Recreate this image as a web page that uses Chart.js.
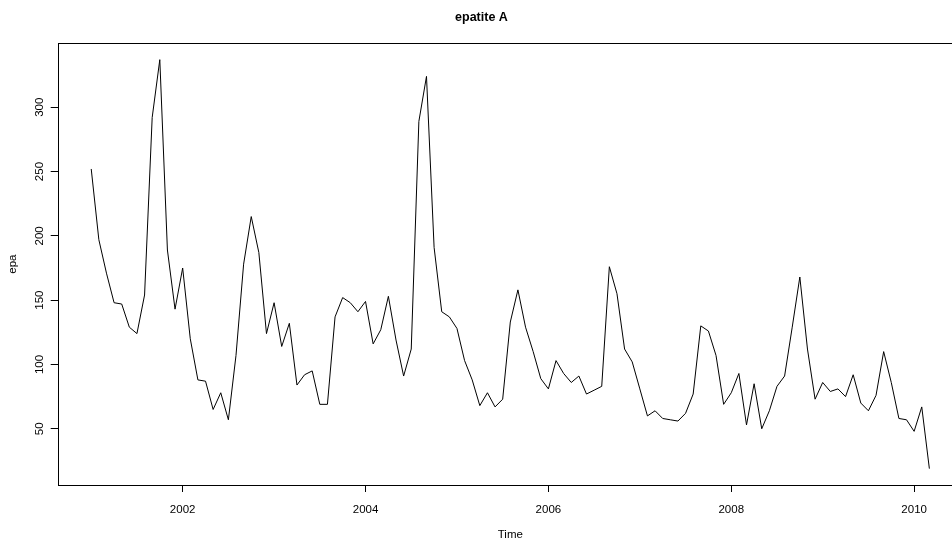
<!DOCTYPE html>
<html>
<head>
<meta charset="utf-8">
<script src="https://cdn.jsdelivr.net/npm/chart.js@4/dist/chart.umd.min.js"></script>
<style>
  html, body { margin: 0; padding: 0; background: #fff; overflow: hidden; }
  #wrap { width: 952px; height: 541px; overflow: hidden; position: relative; }
  canvas { display: block; }
</style>
</head>
<body>
<div id="wrap"><canvas id="c" width="1022" height="541"></canvas></div>
<script>
// Monthly hepatitis A counts, January 2001 onward
const startYear = 2001;
const startMonth = 1;
const epa = [
  252, 197, 171, 148, 147, 129, 124, 154, 292, 337, 189, 143,
  175, 120,  88,  87,  65,  78,  57, 107, 178, 215, 187, 124,
  148, 114, 132,  84,  92,  95,  69,  69, 137, 152, 148, 141,
  149, 116, 127, 153, 119,  91, 112, 289, 324, 191, 141, 137,
  128, 103,  88,  68,  78,  67,  73, 133, 158, 129, 110,  89,
   81, 103,  93,  86,  91,  77,  80,  83, 176, 155, 112, 102,
   81,  60,  64,  58,  57,  56,  62,  77, 130, 126, 107,  69,
   78,  93,  53,  85,  50,  64,  83,  91, 129, 168, 112,  73,
   86,  79,  81,  75,  92,  70,  64,  76, 110,  86,  58,  57,
   48,  67,  19
];
const xTicks = [2002, 2004, 2006, 2008, 2010];
const yTicks = [50, 100, 150, 200, 250, 300];

const chartTitle = 'epatite A';
const xTitle = 'Time';
const yTitle = 'epa';

// time index of each observation (decimal years)
const times = epa.map((_, i) => startYear + (startMonth - 1 + i) / 12);
const points = epa.map((v, i) => ({ x: times[i], y: v }));

// axis limits padded by 4% of the data range on each side
function padded(arr) {
  const lo = Math.min(...arr), hi = Math.max(...arr);
  const d = (hi - lo) * 0.04;
  return [lo - d, hi + d];
}
const [xMin, xMax] = padded(times);
const [yMin, yMax] = padded(epa);

const FONT = "'Liberation Sans', Arial, Helvetica, sans-serif";

// frame around the plotting region
const boxPlugin = {
  id: 'box',
  afterDraw(chart) {
    const { ctx, chartArea: a } = chart;
    ctx.save();
    ctx.strokeStyle = '#000';
    ctx.lineWidth = 1;
    ctx.strokeRect(Math.round(a.left) + 0.5, Math.round(a.top) + 0.5,
                   Math.round(a.right - a.left), Math.round(a.bottom - a.top));
    ctx.restore();
  }
};

new Chart(document.getElementById('c'), {
  type: 'line',
  data: {
    datasets: [{
      data: points,
      borderColor: '#000',
      borderWidth: 1,
      pointRadius: 0,
      tension: 0,
      fill: false
    }]
  },
  options: {
    responsive: false,
    devicePixelRatio: 1,
    animation: false,
    events: [],
    layout: { padding: { left: 0, right: 59.1, top: 0, bottom: 0 } },
    plugins: {
      legend: { display: false },
      tooltip: { enabled: false },
      title: {
        display: true,
        text: chartTitle,
        color: '#000',
        font: { family: FONT, size: 12.5, weight: 'bold', lineHeight: 1.2 },
        padding: { top: 10, bottom: 18.3 }
      }
    },
    scales: {
      x: {
        type: 'linear',
        min: xMin,
        max: xMax,
        afterBuildTicks: s => { s.ticks = xTicks.map(v => ({ value: v })); },
        afterFit: s => { s.height = 56; },
        grid: { drawOnChartArea: false, drawTicks: true, tickLength: 7, tickColor: '#000', lineWidth: 1 },
        border: { display: false },
        ticks: {
          color: '#000',
          font: { family: FONT, size: 11.5 },
          padding: 10.5,
          maxRotation: 0,
          minRotation: 0,
          callback: v => String(v)
        },
        title: {
          display: true,
          text: xTitle,
          color: '#000',
          font: { family: FONT, size: 11.5, lineHeight: 1 },
          padding: { top: 0, bottom: 0 }
        }
      },
      y: {
        type: 'linear',
        min: yMin,
        max: yMax,
        afterBuildTicks: s => { s.ticks = yTicks.map(v => ({ value: v })); },
        afterFit: s => { s.width = 57.7; },
        grid: { drawOnChartArea: false, drawTicks: true, tickLength: 7, tickColor: '#000', lineWidth: 1 },
        border: { display: false },
        ticks: {
          color: '#000',
          font: { family: FONT, size: 11.5 },
          padding: 1,
          minRotation: 90,
          maxRotation: 90,
          crossAlign: 'center',
          callback: v => String(v)
        },
        title: {
          display: true,
          text: yTitle,
          color: '#000',
          font: { family: FONT, size: 11.5, lineHeight: 1.2 },
          padding: { top: 6, bottom: 0 }
        }
      }
    }
  },
  plugins: [boxPlugin]
});
</script>
</body>
</html>
